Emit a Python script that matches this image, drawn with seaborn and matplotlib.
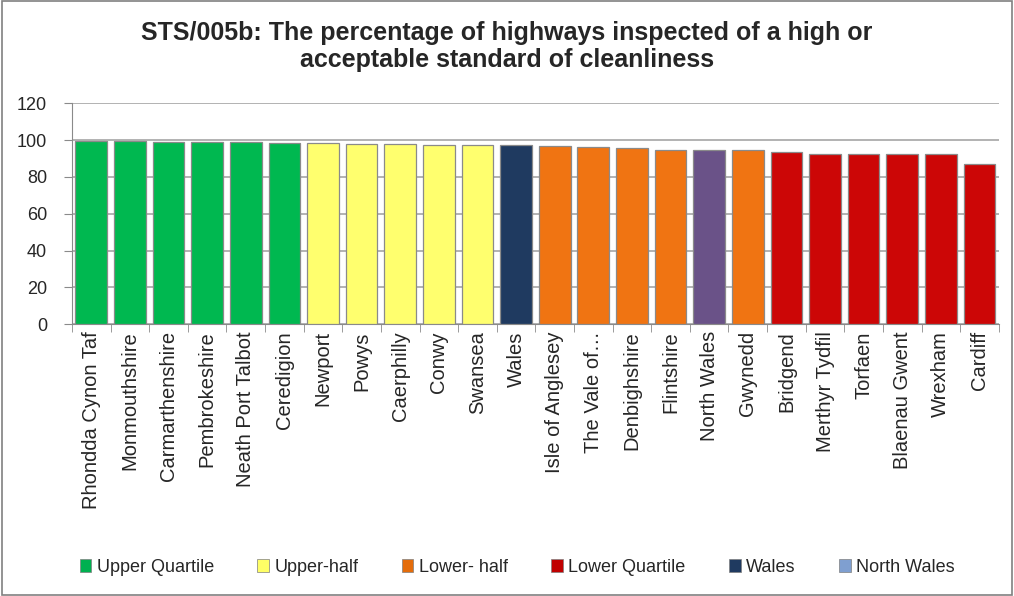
import matplotlib
matplotlib.use("Agg")
import matplotlib.pyplot as plt
from matplotlib.patches import Patch, Rectangle
import seaborn as sns
import pandas as pd
import numpy as np

categories = ["Rhondda Cynon Taf", "Monmouthshire", "Carmarthenshire", "Pembrokeshire",
              "Neath Port Talbot", "Ceredigion", "Newport", "Powys", "Caerphilly", "Conwy",
              "Swansea", "Wales", "Isle of Anglesey", "The Vale of…", "Denbighshire",
              "Flintshire", "North Wales", "Gwynedd", "Bridgend", "Merthyr Tydfil",
              "Torfaen", "Blaenau Gwent", "Wrexham", "Cardiff"]
values = [99.6, 99.4, 98.9, 98.9, 98.9, 98.4, 98.4, 98.0, 98.0, 97.6,
          97.6, 97.1, 96.6, 96.0, 95.5, 94.9, 94.9, 94.4, 93.3, 92.7,
          92.7, 92.7, 92.2, 87.1]
groups = ["Upper Quartile"] * 6 + ["Upper-half"] * 5 + ["Wales"] + ["Lower- half"] * 4 + \
         ["North Wales"] + ["Lower- half"] + ["Lower Quartile"] * 6
legend_labels = ["Upper Quartile", "Upper-half", "Lower- half", "Lower Quartile", "Wales", "North Wales"]

bar_colors = {"Upper Quartile": "#00b850", "Upper-half": "#ffff6e", "Lower- half": "#f07412",
              "Lower Quartile": "#cc0606", "Wales": "#1f3a60", "North Wales": "#6a5288"}
legend_colors = {"Upper Quartile": "#00b050", "Upper-half": "#ffff66", "Lower- half": "#e46c0a",
                 "Lower Quartile": "#c00000", "Wales": "#1f3a60", "North Wales": "#7f9fd0"}

df = pd.DataFrame({"name": categories, "value": values, "group": groups})

sns.set_style("white")
plt.rcParams["font.family"] = ["Liberation Sans", "DejaVu Sans"]

fig = plt.figure(figsize=(10.14, 5.96), dpi=100)
ax = fig.add_axes([0.071, 0.4559, 0.914, 0.3708])

palette = [bar_colors[g] for g in groups]
sns.barplot(data=df, x="name", y="value", hue="name", palette=palette, legend=False,
            saturation=1, width=0.82, ax=ax, edgecolor="#8a8a8a", linewidth=0.9, zorder=3)

ax.set_ylim(0, 120)
ax.set_yticks(range(0, 121, 20))
ax.set_xlim(-0.5, len(categories) - 0.5)
ax.yaxis.grid(True, color="#a6a6a6", linewidth=1.2, zorder=0)
ax.set_axisbelow(True)
for s in ["top", "right"]:
    ax.spines[s].set_visible(False)
ax.spines["left"].set_color("#8a8a8a")
ax.spines["bottom"].set_color("#8a8a8a")
ax.set_xlabel("")
ax.set_ylabel("")
ax.tick_params(axis="y", labelsize=13, length=6, color="#8a8a8a", left=True, direction="out", pad=12)
ax.set_xticks(range(len(categories)))
ax.set_xticklabels(categories, rotation=90, fontsize=14.5)
ax.tick_params(axis="x", length=0, pad=5)
ax.set_xticks(np.arange(-0.5, len(categories), 1.0), minor=True)
ax.tick_params(axis="x", which="minor", length=6, color="#8a8a8a", bottom=True)

fig.text(0.5, 0.945, "STS/005b: The percentage of highways inspected of a high or",
         ha="center", va="center", fontsize=18, fontweight="bold")
fig.text(0.5, 0.899, "acceptable standard of cleanliness",
         ha="center", va="center", fontsize=18, fontweight="bold")

handles = [Patch(facecolor=legend_colors[l], edgecolor="#7f7f7f", linewidth=0.5) for l in legend_labels]
fig.legend(handles, legend_labels, loc="center", bbox_to_anchor=(0.51, 0.048), ncol=6,
           frameon=False, fontsize=13, handlelength=0.65, handleheight=0.75,
           handletextpad=0.3, columnspacing=2.4)

fig.patches.append(Rectangle((0.002, 0.002), 0.996, 0.996, transform=fig.transFigure,
                             fill=False, edgecolor="#808080", linewidth=1.2))

fig.savefig("out.png", dpi=100)
